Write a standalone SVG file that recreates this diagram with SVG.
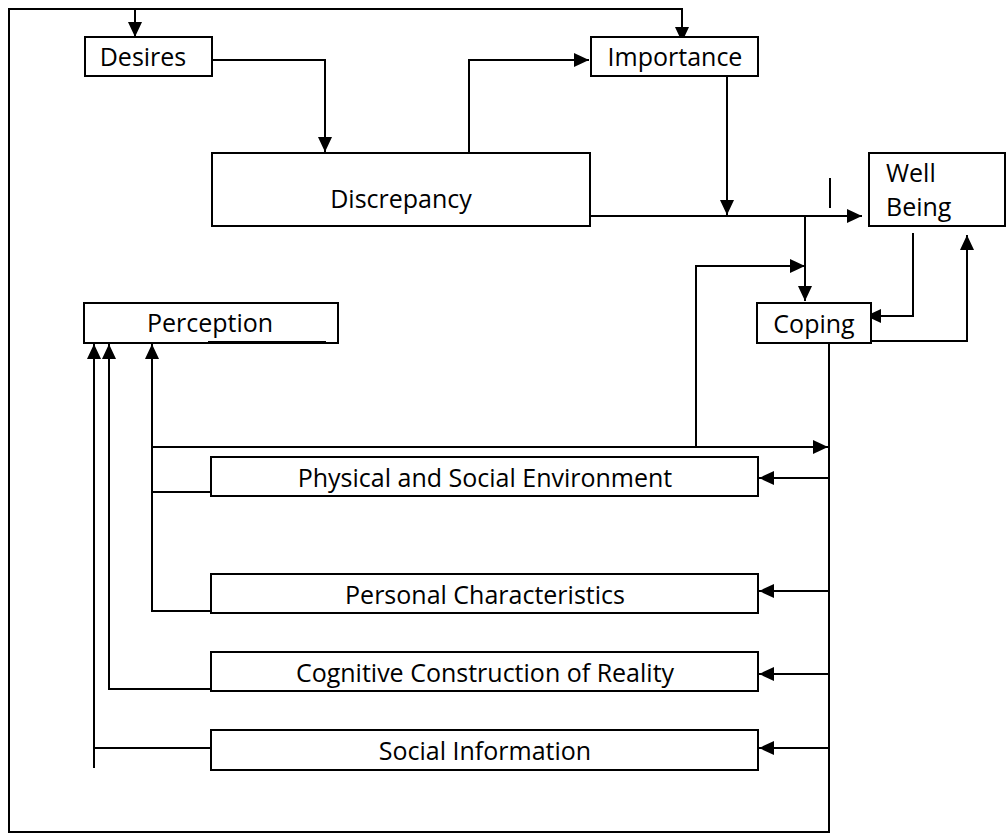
<svg xmlns="http://www.w3.org/2000/svg" width="1008" height="836" viewBox="0 0 1008 836">
<defs>
<marker id="ah" markerUnits="userSpaceOnUse" markerWidth="16" markerHeight="14" refX="15" refY="7" orient="auto">
<path d="M0,0 L15,7 L0,14 z" fill="#000"/>
</marker>
<style>
.box{fill:#fff;stroke:#000;stroke-width:2}
.t{font-family:"Open Sans","Noto Sans",sans-serif;font-size:25px;fill:#000}
.c{stroke:#000;stroke-width:2;fill:none}
.a{marker-end:url(#ah)}
</style>
</defs>
<rect width="1008" height="836" fill="#fff"/>
<g id="connectors">
<path class="c a" d="M829,343 L829,832 L9,832 L9,9 L135,9 L135,37"/>
<path class="c a" d="M135,9 L682,9 L682,42"/>
<path class="c a" d="M209,60 L325,60 L325,152"/>
<path class="c a" d="M469,153 L469,60 L589,60"/>
<path class="c a" d="M590,216 L862,216"/>
<path class="c a" d="M727,76 L727,215"/>
<path class="c" d="M830,178 L830,208"/>
<path class="c a" d="M805,216 L805,301"/>
<path class="c a" d="M696,447 L696,266 L805,266"/>
<path class="c a" d="M913,233 L913,316 L866,316"/>
<path class="c a" d="M863,341 L967,341 L967,235"/>
<path class="c a" d="M152,447 L828,447"/>
<path class="c a" d="M210,611 L152,611 L152,344"/>
<path class="c" d="M152,492 L211,492"/>
<path class="c a" d="M210,689 L109,689 L109,344"/>
<path class="c a" d="M94,768 L94,344"/>
<path class="c" d="M94,748 L210,748"/>
<path class="c a" d="M829,478 L759,478"/>
<path class="c a" d="M829,591 L759,591"/>
<path class="c a" d="M829,674 L759,674"/>
<path class="c a" d="M829,748 L759,748"/>
</g>
<g id="desires">
<rect class="box" x="85" y="37" width="127" height="39"/>
<text class="t" x="143" y="66" text-anchor="middle">Desires</text>
</g>
<g id="importance">
<rect class="box" x="591" y="37" width="167" height="39"/>
<text class="t" x="675" y="66" text-anchor="middle">Importance</text>
</g>
<g id="discrepancy">
<rect class="box" x="212" y="153" width="378" height="73"/>
<text class="t" x="401" y="208" text-anchor="middle">Discrepancy</text>
</g>
<g id="wellbeing">
<rect class="box" x="869" y="153" width="136" height="73"/>
<text class="t" x="886" y="182">Well</text>
<text class="t" x="886" y="216">Being</text>
</g>
<g id="perception">
<rect class="box" x="84" y="303" width="254" height="40"/>
<line class="c" x1="208" y1="342" x2="326" y2="342"/>
<text class="t" x="210" y="332" text-anchor="middle">Perception</text>
</g>
<g id="coping">
<rect class="box" x="757" y="303" width="114" height="40"/>
<text class="t" x="814" y="333" text-anchor="middle">Coping</text>
</g>
<g id="physical">
<rect class="box" x="211" y="457" width="547" height="39"/>
<text class="t" x="485" y="487" text-anchor="middle">Physical and Social Environment</text>
</g>
<g id="personal">
<rect class="box" x="211" y="574" width="547" height="39"/>
<text class="t" x="485" y="604" text-anchor="middle">Personal Characteristics</text>
</g>
<g id="cognitive">
<rect class="box" x="211" y="652" width="547" height="39"/>
<text class="t" x="485" y="682" text-anchor="middle">Cognitive Construction of Reality</text>
</g>
<g id="social">
<rect class="box" x="211" y="730" width="547" height="40"/>
<text class="t" x="485" y="760" text-anchor="middle">Social Information</text>
</g>
</svg>
